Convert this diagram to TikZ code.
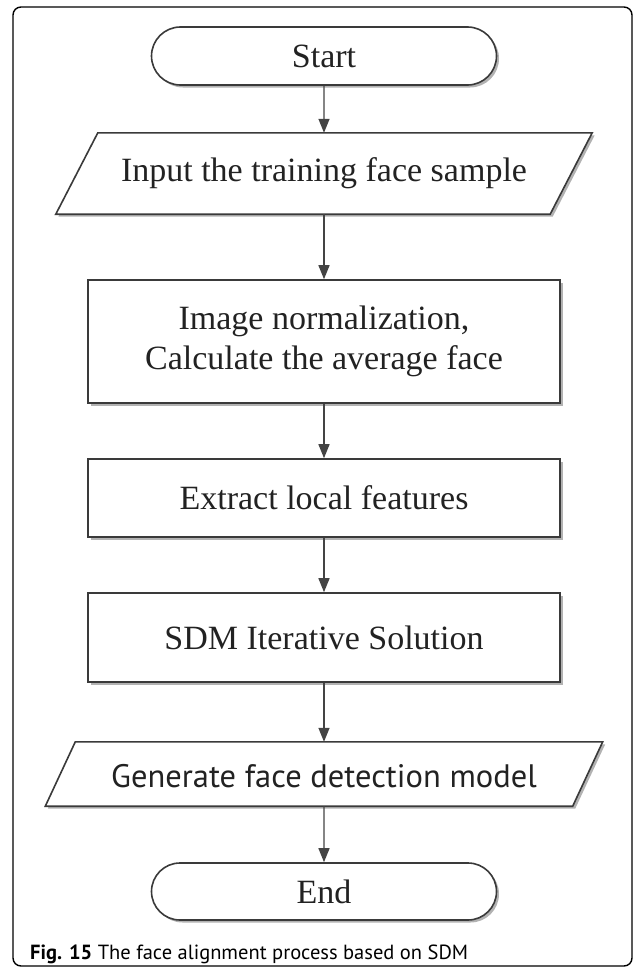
\documentclass[tikz,border=0pt]{standalone}
\usepackage{fontspec}
\setmainfont{Liberation Serif}
\newfontfamily\capfont{PT Sans}
\usetikzlibrary{arrows.meta,shapes.misc,shadows}
\definecolor{boxgray}{HTML}{3A3A3A}
\definecolor{arrowgray}{HTML}{444444}
\definecolor{txtgray}{HTML}{222222}
\begin{document}
\begin{tikzpicture}[x=1pt,y=-1pt,
  shd/.style={drop shadow={shadow xshift=2.5pt,shadow yshift=-2.5pt,opacity=0.3,fill=black}},
  shp/.style={draw=boxgray, line width=1.6pt, fill=white, shd},
  txt/.style={font=\fontsize{34}{40}\selectfont, text=txtgray, align=center, inner sep=0pt},
  term/.style={shp, txt, rounded rectangle, minimum width=345pt, minimum height=58pt},
  proc/.style={shp, txt, rectangle, minimum width=472pt},
  io/.style={txt, rectangle, draw=none},
  flow/.style={draw=arrowgray, line width=1.4pt, -{Triangle[length=14pt,width=11pt]}},
  frame/.style={draw=black, line width=1.4pt, rounded corners=8pt}
]
\useasboundingbox (0,0) rectangle (634,969);
\draw[frame] (13,7) rectangle (632,966);

% terminal start
\node[term] (start) at (324,56) {Start};

% input parallelogram
\node[io, minimum width=494pt, minimum height=81pt] (in) at (324,173.5) {};
\path[shp] ([xshift=-21pt]in.south west) -- ([xshift=-21pt]in.south east)
  -- ([xshift=21pt]in.north east) -- ([xshift=21pt]in.north west) -- cycle;
\node[txt] (intext) at (in.center) {Input the training face sample};

% processes
\node[proc, minimum height=123pt] (norm) at (324,341.5) {Image normalization,\\Calculate the average face};
\node[proc, minimum height=78pt] (feat) at (324,498) {Extract local features};
\node[proc, minimum height=89pt] (sdm) at (324,637.5) {SDM Iterative Solution};

% output parallelogram
\node[io, minimum width=527pt, minimum height=64pt] (out) at (324,774) {};
\path[shp] ([xshift=-15pt]out.south west) -- ([xshift=-15pt]out.south east)
  -- ([xshift=15pt]out.north east) -- ([xshift=15pt]out.north west) -- cycle;
\node[txt, font=\capfont\fontsize{32.5}{36}\selectfont] (outtext) at ([yshift=-2pt]out.center) {Generate face detection model};

% terminal end
\node[term, minimum height=57pt] (end) at (324,891.5) {End};

% connectors
\draw[flow] (start) -- (in);
\draw[flow] (in) -- (norm);
\draw[flow] (norm) -- (feat);
\draw[flow] (feat) -- (sdm);
\draw[flow] (sdm) -- (out);
\draw[flow] (out) -- (end);

% caption
\node[anchor=base west, inner sep=0pt, text=black, font=\capfont\fontsize{20.5}{20.5}\selectfont] (cap) at (30,959) {\textbf{Fig. 15} The face alignment process based on SDM};
\end{tikzpicture}
\end{document}
